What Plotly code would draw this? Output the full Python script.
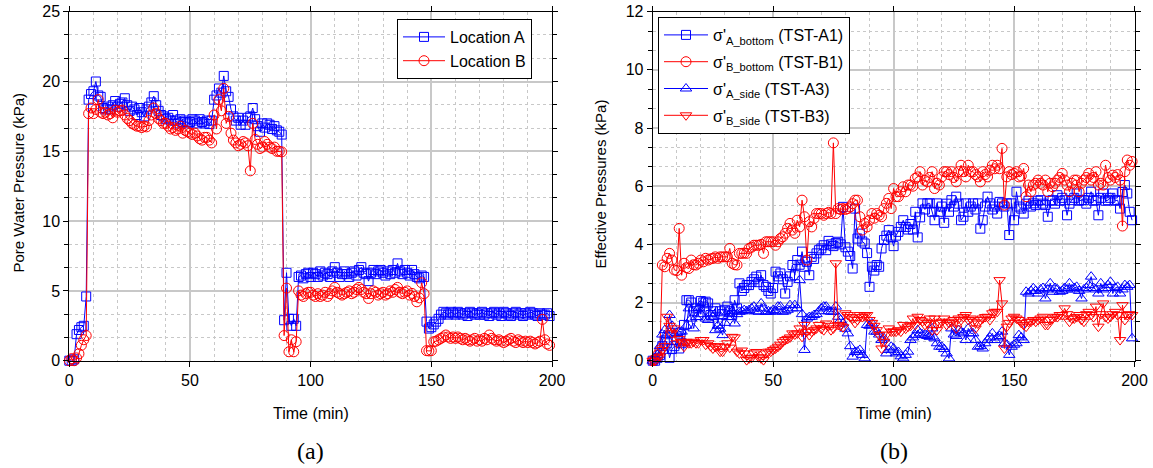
import plotly.graph_objects as go

# ---------------- data ----------------
TIME = list(range(0, 200))

# (a) Pore water pressure (kPa)
LOC_A = [
    0.0, 0.0, 0.1, 1.9, 2.2, 2.4, 2.5, 4.6, 18.7, 19.1,
    19.3, 20.0, 19.0, 18.9, 18.1, 18.0, 18.2, 18.0, 18.3, 18.6,
    18.2, 18.4, 18.5, 18.8, 18.3, 17.9, 18.2, 18.0, 17.6, 18.1,
    17.8, 17.5, 18.0, 18.2, 18.5, 18.95, 18.3, 17.9, 17.6, 17.5,
    17.3, 17.4, 17.2, 17.6, 17.2, 17.0, 17.3, 17.1, 17.2, 17.0,
    17.1, 17.3, 17.2, 17.0, 17.3, 17.1, 17.0, 17.2, 16.95, 17.2,
    18.7, 19.0, 19.5, 19.2, 20.4, 19.3, 18.9, 18.0, 17.5, 17.2,
    17.4, 16.9, 17.2, 16.9, 17.4, 17.5, 18.1, 17.3, 16.8, 16.4,
    17.0, 16.7, 17.0, 16.9, 16.6, 16.8, 16.5, 16.4, 16.2, 2.9,
    6.3, 3.0, 2.5, 3.0, 2.5, 6.0, 6.1, 5.9, 6.2, 6.3,
    6.0, 6.3, 6.2, 6.0, 6.4, 6.1, 6.3, 6.2, 6.0, 6.4,
    6.7, 6.3, 6.0, 6.2, 6.4, 6.2, 6.0, 6.3, 6.4, 6.1,
    6.5, 6.7, 6.3, 6.2, 5.7, 6.3, 6.5, 6.2, 6.4, 6.5,
    6.3, 6.1, 6.4, 6.2, 6.5, 6.3, 6.97, 6.4, 6.2, 6.5,
    6.3, 6.1, 6.5, 6.2, 6.0, 5.9, 6.1, 6.0, 2.8, 2.3,
    2.4, 2.6, 2.8, 3.0, 3.3, 3.5, 3.4, 3.3, 3.5, 3.4,
    3.3, 3.5, 3.4, 3.3, 3.4, 3.2, 3.5, 3.4, 3.3, 3.4,
    3.3, 3.5, 3.3, 3.4, 3.2, 3.4, 3.5, 3.3, 3.4, 3.2,
    3.5, 3.4, 3.3, 3.2, 3.4, 3.5, 3.3, 3.4, 3.2, 3.4,
    3.3, 3.5, 3.4, 3.3, 3.2, 3.4, 3.3, 3.3, 3.4, 3.2,
]
LOC_B = [
    0.0, 0.15, 0.0, 0.2, 0.5, 1.1, 1.5, 1.8, 17.7, 18.1,
    17.7, 18.0, 18.7, 17.8, 17.7, 17.8, 17.6, 17.7, 17.4, 17.95,
    17.8, 17.9, 17.95, 17.6, 17.35, 17.2, 17.0, 16.9, 16.8, 16.8,
    16.7, 16.8, 16.75, 17.2, 17.6, 18.1, 17.7, 17.35, 17.2, 17.0,
    17.0, 16.8, 16.6, 16.7, 16.5, 16.6, 16.8, 16.3, 16.5, 16.4,
    16.3, 16.2, 16.3, 16.1, 15.9, 15.8, 16.0, 16.0, 15.8, 15.6,
    17.6, 16.6, 18.7, 17.9, 19.5, 17.0, 17.5, 16.3, 15.8, 15.6,
    15.4, 15.5, 15.7, 15.6, 15.4, 13.6, 17.0, 15.85, 15.5, 15.2,
    15.3, 15.7, 15.5, 15.3, 15.2, 15.3, 15.0, 15.0, 14.96, 1.8,
    5.2, 0.64, 1.5, 0.64, 1.36, 5.0, 4.7, 4.6, 4.8, 4.9,
    4.9, 4.7, 4.6, 4.8, 4.6, 4.7, 4.9, 4.6, 4.8, 5.0,
    5.25, 4.9, 4.8, 4.7, 4.8, 4.9, 5.0, 4.8, 4.9, 5.1,
    5.25, 5.1, 4.9, 4.8, 4.46, 4.8, 5.0, 4.9, 4.7, 4.8,
    4.9, 4.7, 4.8, 5.0, 4.9, 5.1, 5.25, 4.9, 4.8, 4.9,
    5.0, 4.7, 4.82, 4.6, 4.22, 4.5, 5.58, 4.8, 0.72, 0.7,
    0.72, 1.36, 1.4, 1.5, 1.6, 1.7, 1.84, 1.7, 1.6, 1.7,
    1.6, 1.7, 1.6, 1.5, 1.6, 1.5, 1.4, 1.5, 1.6, 1.4,
    1.5, 1.4, 1.6, 1.5, 1.84, 1.6, 1.5, 1.4, 1.5, 1.4,
    1.3, 1.4, 1.5, 1.6, 1.4, 1.3, 1.5, 1.4, 1.3, 1.4,
    1.3, 1.4, 1.3, 1.2, 1.3, 1.4, 2.96, 1.5, 1.2, 1.1,
]

# (b) Effective pressures (kPa)
A_BOTTOM = [
    0.0, 0.0, 0.1, 0.2, 0.5, 0.7, 0.6, 0.1, 0.4, 0.5,
    0.7, 0.42, 0.6, 1.23, 2.08, 2.08, 2.0, 1.7, 1.8, 1.57,
    2.05, 2.0, 2.03, 1.97, 1.57, 1.7, 1.8, 1.28, 1.7, 1.6,
    1.75, 1.86, 1.7, 1.57, 2.08, 1.8, 2.66, 2.4, 2.5, 2.6,
    2.6, 2.71, 2.8, 2.89, 2.7, 2.94, 2.6, 2.54, 2.4, 2.31,
    2.5, 3.06, 2.9, 3.0, 2.8, 2.31, 2.71, 2.9, 3.29, 2.94,
    3.46, 3.3, 3.75, 3.23, 3.4, 2.94, 3.57, 3.5, 3.69, 3.8,
    3.86, 3.97, 3.8, 4.12, 4.0, 3.94, 4.05, 4.09, 4.0, 5.29,
    3.9, 3.75, 3.6, 3.17, 5.23, 4.2, 4.37, 4.1, 4.03, 3.7,
    2.54, 3.23, 3.1, 3.29, 3.23, 3.86, 4.15, 4.3, 4.49, 4.24,
    3.94, 4.3, 4.43, 4.6, 4.83, 4.6, 4.51, 4.7, 4.51, 5.12,
    4.24, 4.93, 5.41, 5.2, 5.41, 5.41, 5.12, 4.83, 5.41, 5.12,
    5.3, 4.74, 5.4, 5.12, 5.52, 5.3, 5.64, 5.4, 4.83, 4.95,
    5.41, 5.12, 5.3, 5.41, 5.2, 5.41, 4.54, 4.83, 5.3, 5.64,
    5.41, 5.2, 5.3, 5.06, 5.46, 5.41, 5.3, 5.41, 4.32, 5.41,
    4.83, 5.81, 5.3, 5.23, 5.06, 5.4, 5.5, 5.3, 5.41, 5.35,
    5.5, 5.52, 5.4, 5.35, 4.95, 5.5, 5.52, 5.4, 5.69, 5.5,
    5.6, 5.52, 5.0, 5.4, 5.52, 5.6, 5.75, 5.5, 5.52, 5.52,
    5.4, 5.6, 5.81, 5.5, 5.52, 5.0, 5.6, 5.75, 5.5, 5.52,
    5.6, 5.75, 5.5, 5.52, 5.23, 5.8, 6.04, 5.75, 5.12, 4.83,
]
B_BOTTOM = [
    0.0, 0.05, 0.2, 0.37, 3.29, 3.23, 3.52, 3.69, 3.46, 3.12,
    3.1, 4.55, 2.94, 3.35, 3.2, 3.17, 3.46, 3.3, 3.29, 3.35,
    3.46, 3.4, 3.52, 3.46, 3.5, 3.52, 3.57, 3.52, 3.57, 3.57,
    3.57, 3.57, 3.86, 3.35, 3.3, 3.29, 3.69, 3.69, 3.7, 3.69,
    3.86, 3.9, 3.97, 3.97, 3.97, 4.0, 3.69, 4.09, 4.09, 4.09,
    4.09, 3.97, 4.09, 4.2, 4.26, 4.38, 4.55, 4.72, 4.49, 4.38,
    4.83, 4.6, 5.52, 4.95, 3.46, 4.78, 4.6, 4.89, 5.06, 5.06,
    5.06, 5.0, 5.06, 5.1, 5.06, 7.49, 5.06, 5.23, 5.2, 5.23,
    5.2, 5.23, 5.29, 5.4, 5.52, 5.52, 4.95, 4.49, 4.72, 4.6,
    4.83, 5.06, 4.9, 5.06, 5.0, 4.95, 5.23, 5.41, 5.58, 5.23,
    5.92, 5.64, 5.64, 5.81, 5.98, 5.81, 6.04, 6.04, 6.0, 6.27,
    6.32, 6.5, 6.04, 6.2, 6.15, 6.3, 6.5, 5.92, 6.1, 6.04,
    6.32, 6.5, 6.5, 6.4, 6.5, 6.3, 6.15, 6.5, 6.72, 6.5,
    6.32, 6.72, 6.5, 6.5, 6.4, 6.32, 6.15, 6.5, 6.4, 6.32,
    6.55, 6.72, 6.6, 6.72, 6.6, 7.3, 5.35, 6.32, 6.5, 6.4,
    6.44, 6.5, 6.32, 6.35, 6.61, 5.64, 6.04, 5.81, 6.04, 6.1,
    6.21, 6.1, 6.04, 6.21, 5.81, 6.1, 5.98, 6.1, 6.21, 6.3,
    6.44, 6.21, 6.04, 5.81, 6.1, 6.21, 6.21, 5.81, 6.1, 6.21,
    6.3, 6.44, 6.21, 6.3, 6.5, 6.04, 6.1, 6.04, 6.72, 6.3,
    6.21, 6.38, 6.3, 6.4, 6.21, 4.63, 6.5, 6.9, 6.72, 6.85,
]
A_SIDE = [
    0.0, 0.1, 0.2, 0.5, 0.9, 1.05, 0.88, 1.57, 1.2, 0.9,
    0.95, 1.0, 1.0, 0.6, 1.2, 1.8, 1.45, 1.11, 1.5, 1.8,
    1.6, 2.03, 1.45, 1.4, 1.6, 1.5, 1.05, 1.2, 1.1, 0.88,
    1.3, 1.5, 1.6, 1.7, 1.28, 1.6, 1.68, 1.7, 1.74, 1.7,
    1.74, 1.8, 1.86, 1.7, 1.68, 1.97, 1.8, 1.68, 1.7, 1.68,
    1.74, 1.7, 1.86, 1.86, 1.68, 1.7, 1.75, 1.91, 1.8, 1.91,
    1.8, 2.77, 1.6, 0.37, 1.45, 1.5, 1.51, 1.57, 1.6, 1.7,
    1.8, 1.86, 1.86, 1.7, 1.68, 1.68, 1.86, 1.51, 1.4, 1.28,
    1.1, 0.94, 0.5, 0.14, 0.3, 0.31, 0.37, 0.2, 0.08, 1.23,
    1.2, 1.28, 1.0, 1.0, 0.9, 0.71, 0.77, 0.25, 0.37, 0.48,
    0.42, 0.25, 0.3, 0.15, 0.08, 0.2, 0.31, 0.71, 0.8, 0.88,
    1.05, 0.94, 0.9, 0.88, 0.85, 0.82, 1.11, 0.77, 0.6, 0.48,
    0.48, 0.4, 0.25, 0.08, 1.11, 0.9, 0.85, 1.05, 1.0, 0.94,
    0.71, 1.11, 0.94, 0.94, 0.71, 0.48, 0.5, 0.42, 0.6, 0.71,
    0.8, 0.94, 0.71, 0.8, 0.85, 1.0, 0.6, 0.55, 0.2, 0.48,
    0.55, 0.6, 0.88, 0.8, 0.71, 2.37, 2.31, 2.4, 2.49, 2.4,
    2.31, 2.45, 2.5, 2.14, 2.45, 2.66, 2.37, 2.5, 2.45, 2.37,
    2.4, 2.5, 2.45, 2.66, 2.45, 2.5, 2.54, 2.4, 2.14, 2.45,
    2.5, 2.6, 2.89, 2.5, 2.45, 2.31, 2.66, 2.45, 2.5, 2.6,
    2.71, 2.31, 2.5, 2.54, 2.31, 2.45, 2.6, 2.54, 2.6, 0.77,
]
B_SIDE = [
    0.0, 0.0, 0.1, 0.14, 0.37, 0.5, 1.51, 1.2, 0.94, 1.11,
    0.6, 0.75, 0.65, 0.48, 0.65, 0.6, 0.6, 0.65, 0.6, 0.6,
    0.71, 0.71, 0.55, 0.6, 0.5, 0.42, 0.48, 0.5, 0.31, 0.31,
    0.48, 0.6, 0.45, 0.82, 0.8, 0.31, 0.25, 0.35, 0.25, 0.02,
    0.08, 0.1, 0.25, 0.3, 0.12, 0.08, 0.02, 0.25, 0.31, 0.31,
    0.37, 0.42, 0.48, 0.55, 0.65, 0.71, 0.75, 0.8, 0.94, 0.9,
    0.94, 1.11, 0.82, 1.23, 1.0, 0.88, 1.0, 1.05, 1.11, 1.23,
    1.1, 1.05, 1.28, 1.2, 1.05, 1.11, 3.35, 1.23, 1.2, 1.15,
    1.63, 1.57, 1.5, 1.45, 1.3, 1.4, 1.57, 1.5, 1.55, 1.57,
    1.4, 1.3, 1.2, 1.05, 0.88, 0.42, 0.65, 0.9, 1.11, 1.0,
    1.0, 1.0, 1.05, 1.0, 1.23, 1.1, 1.17, 1.2, 1.45, 1.23,
    1.51, 1.4, 1.35, 1.23, 1.3, 1.45, 1.05, 1.45, 1.05, 1.3,
    1.34, 1.45, 1.23, 1.3, 1.34, 1.4, 1.11, 1.45, 1.4, 1.5,
    1.57, 1.4, 1.45, 1.34, 1.11, 1.28, 1.4, 1.45, 1.5, 1.51,
    1.4, 1.63, 1.68, 1.68, 2.77, 1.97, 0.42, 1.17, 1.3, 1.45,
    1.51, 1.45, 1.4, 1.3, 1.23, 1.17, 1.34, 1.34, 1.4, 1.34,
    1.4, 1.45, 1.51, 1.23, 1.23, 1.4, 1.45, 1.51, 1.5, 1.57,
    1.57, 1.8, 1.6, 1.34, 1.45, 1.45, 1.5, 1.57, 1.4, 1.34,
    1.6, 1.68, 1.57, 1.5, 1.86, 1.17, 1.6, 1.97, 1.5, 1.45,
    1.51, 1.6, 1.68, 1.57, 0.71, 1.91, 1.4, 1.57, 1.6, 1.57,
]

NAMES_A = ["Location A", "Location B"]
NAMES_B = [
    "σ'<sub>A_bottom</sub> (TST-A1)",
    "σ'<sub>B_bottom</sub> (TST-B1)",
    "σ'<sub>A_side</sub> (TST-A3)",
    "σ'<sub>B_side</sub> (TST-B3)",
]

# ---------------- figure ----------------
W, H = 1153, 468
BLUE, RED = "#0000ff", "#ff0000"
FONT = "Liberation Sans"
SERIF = "Liberation Serif"


def px_x(p):
    return p / W


def px_y(p):
    return 1 - p / H


fig = go.Figure()


def add(y, name, color, symbol, xa, ya, leg, grp, size=9):
    fig.add_trace(go.Scatter(
        x=TIME, y=y, name=name, mode="lines+markers",
        line=dict(color=color, width=1),
        marker=dict(symbol=symbol, size=size, color=color,
                    line=dict(color=color, width=1)),
        xaxis=xa, yaxis=ya, legend=leg, legendgroup=grp, cliponaxis=False,
    ))


add(LOC_A, NAMES_A[0], BLUE, "square-open", "x", "y", "legend", "a1", 9)
add(LOC_B, NAMES_A[1], RED, "circle-open", "x", "y", "legend", "a2", 10)
add(A_BOTTOM, NAMES_B[0], BLUE, "square-open", "x2", "y2", "legend2", "b1", 9)
add(B_BOTTOM, NAMES_B[1], RED, "circle-open", "x2", "y2", "legend2", "b2", 10)
add(A_SIDE, NAMES_B[2], BLUE, "triangle-up-open", "x2", "y2", "legend2", "b3", 10)
add(B_SIDE, NAMES_B[3], RED, "triangle-down-open", "x2", "y2", "legend2", "b4", 10)

GRID = "#c8c8c8"
MINOR = "#c8c8c8"
tickfont = dict(family=FONT, size=16, color="#000000")


def xax(domain, anchor):
    return dict(
        domain=domain, anchor=anchor, range=[0, 200], dtick=50, tick0=0,
        showline=True, linecolor="#000000", linewidth=1, mirror="ticks",
        ticks="outside", ticklen=5, tickcolor="#000000",
        showgrid=True, gridcolor=GRID, gridwidth=1.5,
        minor=dict(dtick=10, tick0=0, showgrid=True, gridcolor=MINOR,
                   griddash="dot", gridwidth=1, ticks=""),
        tickfont=tickfont, zeroline=False, fixedrange=True, automargin=False,
    )


def yax(domain, anchor, rng, dt, mdt):
    return dict(
        domain=domain, anchor=anchor, range=rng, dtick=dt, tick0=0,
        showline=True, linecolor="#000000", linewidth=1, mirror="ticks",
        ticks="outside", ticklen=5, tickcolor="#000000",
        showgrid=True, gridcolor=GRID, gridwidth=1.5,
        minor=dict(dtick=mdt, tick0=0, showgrid=True, gridcolor=MINOR,
                   griddash="dot", gridwidth=1, ticks="outside", ticklen=4,
                   tickcolor="#000000"),
        tickfont=tickfont, zeroline=False, fixedrange=True, automargin=False,
    )


ydom = [px_y(360.7), px_y(11.7)]
fig.update_layout(
    width=W, height=H,
    margin=dict(l=0, r=0, t=0, b=0, autoexpand=False),
    paper_bgcolor="white", plot_bgcolor="white",
    xaxis=xax([px_x(69.3), px_x(552)], "y"),
    yaxis=yax(ydom, "x", [0, 25], 5, 5 / 3),
    xaxis2=xax([px_x(652.7), px_x(1134.5)], "y2"),
    yaxis2=yax(ydom, "x2", [0, 12], 2, 2 / 3),
    legend=dict(
        x=px_x(397), y=px_y(19), xanchor="left", yanchor="top",
        bgcolor="white", bordercolor="#000000", borderwidth=1,
        font=dict(family=FONT, size=16, color="#000000"),
        itemwidth=42, tracegroupgap=0,
    ),
    legend2=dict(
        x=px_x(658), y=px_y(17), xanchor="left", yanchor="top",
        bgcolor="white", bordercolor="#000000", borderwidth=1,
        font=dict(family=FONT, size=16, color="#000000"),
        itemwidth=44, tracegroupgap=3,
    ),
    showlegend=True,
)

annotations = [
    dict(text="Pore Water Pressure (kPa)", x=px_x(18), y=px_y(182.5),
         textangle=-90, font=dict(family=FONT, size=15, color="#000000")),
    dict(text="Effective Pressures (kPa)", x=px_x(600.5), y=px_y(184),
         textangle=-90, font=dict(family=FONT, size=15, color="#000000")),
    dict(text="Time (min)", x=px_x(310.6), y=px_y(413),
         font=dict(family=FONT, size=16, color="#000000")),
    dict(text="Time (min)", x=px_x(893.6), y=px_y(413),
         font=dict(family=FONT, size=16, color="#000000")),
    dict(text="(a)", x=px_x(310.6), y=px_y(451),
         font=dict(family=SERIF, size=24, color="#000000")),
    dict(text="(b)", x=px_x(893.6), y=px_y(451),
         font=dict(family=SERIF, size=24, color="#000000")),
]
for a in annotations:
    a.update(xref="paper", yref="paper", showarrow=False,
             xanchor="center", yanchor="middle")
fig.update_layout(annotations=annotations)

fig.write_html(
    "out.html",
    config={"displayModeBar": False},
    post_script="document.body.style.margin='0';document.body.style.padding='0';",
)
